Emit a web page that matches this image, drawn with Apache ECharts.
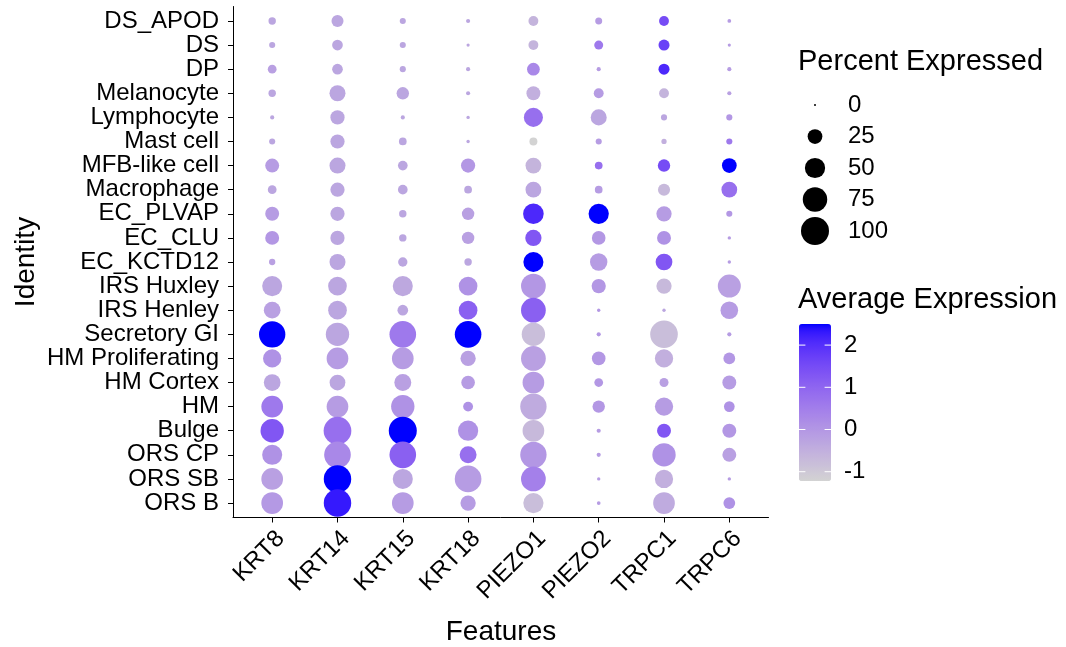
<!DOCTYPE html>
<html>
<head>
<meta charset="utf-8">
<script src="https://cdn.jsdelivr.net/npm/echarts@6/dist/echarts.min.js"></script>
<style>html,body{margin:0;padding:0;background:#fff;}#chart{width:1066px;height:647px;}</style>
</head>
<body>
<div id="chart"></div>
<script>
// ---------------- DATA ----------------
const features = ['KRT8','KRT14','KRT15','KRT18','PIEZO1','PIEZO2','TRPC1','TRPC6'];
const identities = ['DS_APOD','DS','DP','Melanocyte','Lymphocyte','Mast cell','MFB-like cell','Macrophage','EC_PLVAP','EC_CLU','EC_KCTD12','IRS Huxley','IRS Henley','Secretory GI','HM Proliferating','HM Cortex','HM','Bulge','ORS CP','ORS SB','ORS B'];
const sizeBreaks = [0, 25, 50, 75, 100];
const colorBreaks = [-1, 0, 1, 2];

// percent expressed, per feature, identities top -> bottom
const pct_KRT8   = [5,3,7.5,5,1,3,22,7.5,22,22,3.3,49,33,88,40,33,58,68,49,58,58];
const pct_KRT14  = [15.7,12,12,30,23,23,30,23,23,23,30,42,42,68,58,29,58,98,90,96,96];
const pct_KRT15  = [3,3,3,17,1,5.5,9.6,9.6,5,5,8.7,49,12,90,58,34,68,100,90,49,58];
const pct_KRT18  = [1,0.4,1,1,0.5,0.5,23,5.5,17,17,5,42,42,90,27,21,10,50,34,90,27];
const pct_PIEZO1 = [10,10,18,22,44,6,29,29,52,31,49,77,77,68,77,58,88,58,88,77,50];
const pct_PIEZO2 = [4.3,8,1,10,30,3,5.5,5.5,50,21,36,23,0.5,1,21,7.5,17,1,1,0.5,0.7];
const pct_TRPC1  = [10,13,13,10,3,2,17,16,27,22,33,27,0.5,97,40,8,40,22,68,40,58];
const pct_TRPC6  = [0.7,0.4,1,1,3,3,25,29,3,0.5,0.5,66,37,1,15,22,12,22,22,0.5,15];

// average expression (scaled), per feature, identities top -> bottom
const avg_KRT8   = [-0.3,-0.3,-0.2,-0.3,-0.3,-0.3,-0.1,-0.3,-0.1,0.0,-0.2,-0.3,-0.2,2.5,0.1,-0.3,0.6,1.3,0.1,-0.2,-0.05];
const avg_KRT14  = [-0.3,-0.3,-0.3,-0.3,-0.3,-0.3,-0.3,-0.3,-0.3,-0.3,-0.3,-0.3,-0.3,-0.3,-0.1,-0.3,-0.1,0.8,0.3,2.5,2.3];
const avg_KRT15  = [-0.3,-0.3,-0.3,-0.3,-0.3,-0.3,-0.3,-0.3,-0.3,-0.3,-0.3,-0.35,-0.3,0.6,-0.1,-0.2,0.1,2.5,1.1,-0.3,-0.1];
const avg_KRT18  = [-0.3,-0.3,-0.3,-0.3,-0.3,-0.3,0.0,-0.3,-0.2,-0.2,-0.3,0.1,1.1,2.5,-0.2,-0.1,0.1,0.1,0.8,-0.1,-0.1];
const avg_PIEZO1 = [-0.6,-0.6,0.3,-0.5,0.8,-1.22,-0.6,-0.3,2.1,1.3,2.5,0.0,1.1,-0.8,-0.2,-0.1,-0.4,-0.7,0.0,0.45,-0.8];
const avg_PIEZO2 = [-0.1,0.6,-0.1,-0.1,-0.3,-0.1,0.8,-0.1,2.5,0.0,-0.1,0.0,0.0,0.0,0.0,0.0,0.0,-0.1,-0.1,-0.1,-0.1];
const avg_TRPC1  = [1.5,1.7,2.1,-0.6,-0.3,-0.5,1.5,-0.7,-0.1,0.1,1.3,-0.7,-0.3,-0.8,-0.5,-0.2,-0.1,1.3,0.1,-0.5,-0.4];
const avg_TRPC6  = [-0.1,-0.1,-0.1,-0.2,0.0,0.6,2.5,0.8,0.0,-0.1,-0.1,-0.2,-0.1,-0.1,0.0,-0.1,0.1,0.0,-0.2,-0.1,0.1];

const pctCols = [pct_KRT8,pct_KRT14,pct_KRT15,pct_KRT18,pct_PIEZO1,pct_PIEZO2,pct_TRPC1,pct_TRPC6];
const avgCols = [avg_KRT8,avg_KRT14,avg_KRT15,avg_KRT18,avg_PIEZO1,avg_PIEZO2,avg_TRPC1,avg_TRPC6];

// ---------------- helpers ----------------
const FONT = "'Liberation Sans', Arial, Helvetica, sans-serif";
function dotSize(p){ return Math.max(2, 1.5 + 26.5 * Math.sqrt(p / 100)); }

function s2l(c){ c/=255; return c<=0.04045 ? c/12.92 : Math.pow((c+0.055)/1.055, 2.4); }
function l2s(c){ c = c<=0.0031308 ? 12.92*c : 1.055*Math.pow(c,1/2.4)-0.055; return Math.round(Math.max(0,Math.min(1,c))*255); }
function rgb2lab(r,g,b){
  r=s2l(r); g=s2l(g); b=s2l(b);
  let X=(0.4124564*r+0.3575761*g+0.1804375*b)/0.95047;
  let Y=(0.2126729*r+0.7151522*g+0.0721750*b);
  let Z=(0.0193339*r+0.1191920*g+0.9503041*b)/1.08883;
  const f=t=> t>0.008856 ? Math.cbrt(t) : 7.787*t+16/116;
  const fx=f(X), fy=f(Y), fz=f(Z);
  return [116*fy-16, 500*(fx-fy), 200*(fy-fz)];
}
function lab2rgb(L,a,b){
  const fy=(L+16)/116, fx=fy+a/500, fz=fy-b/200;
  const fi=t=>{ const t3=t*t*t; return t3>0.008856 ? t3 : (t-16/116)/7.787; };
  const X=fi(fx)*0.95047, Y=fi(fy), Z=fi(fz)*1.08883;
  const r= 3.2404542*X-1.5371385*Y-0.4985314*Z;
  const g=-0.9692660*X+1.8760108*Y+0.0415560*Z;
  const bb=0.0556434*X-0.2040259*Y+1.0572252*Z;
  return 'rgb('+l2s(r)+','+l2s(g)+','+l2s(bb)+')';
}
const lo = rgb2lab(211,211,211), hi = rgb2lab(0,0,255);
const stops = [];
for (let k=0;k<=40;k++){ const t=k/40; stops.push(lab2rgb(lo[0]+(hi[0]-lo[0])*t, lo[1]+(hi[1]-lo[1])*t, lo[2]+(hi[2]-lo[2])*t)); }

// ---------------- build series data ----------------
const data = [];
let vMin = Infinity, vMax = -Infinity;
features.forEach((f, j) => {
  identities.forEach((id, i) => {
    const a = avgCols[j][i], p = pctCols[j][i];
    vMin = Math.min(vMin, a); vMax = Math.max(vMax, a);
    data.push([j, i, a, p]);
  });
});

// ---------------- legend geometry ----------------
const barLeft = 799, barTop = 324, barW = 32, barH = 157;
const graphics = [];
graphics.push({type:'text', x: 798, y: 62, style:{text:'Percent Expressed', font:'29px '+FONT, fill:'#000', textVerticalAlign:'middle'}, z:10});
sizeBreaks.forEach((b, k) => {
  const cy = 105 + k*31.5;
  graphics.push({type:'circle', shape:{cx:815, cy:cy, r: dotSize(b)/2}, style:{fill:'#000'}, z:10});
  graphics.push({type:'text', x: 848, y: cy, style:{text:String(b), font:'24px '+FONT, fill:'#000', textVerticalAlign:'middle'}, z:10});
});
graphics.push({type:'text', x: 798, y: 300, style:{text:'Average Expression', font:'29px '+FONT, fill:'#000', textVerticalAlign:'middle'}, z:10});
colorBreaks.forEach(b => {
  const y = barTop + barH - (b - vMin)/(vMax - vMin)*barH;
  graphics.push({type:'line', shape:{x1:barLeft, y1:y, x2:barLeft+barW/5, y2:y}, style:{stroke:'#fff', lineWidth:1}, z:20});
  graphics.push({type:'line', shape:{x1:barLeft+barW*4/5, y1:y, x2:barLeft+barW, y2:y}, style:{stroke:'#fff', lineWidth:1}, z:20});
  graphics.push({type:'text', x: 844, y: y, style:{text:String(b), font:'24px '+FONT, fill:'#000', textVerticalAlign:'middle'}, z:10});
});
graphics.push({type:'text', x: 26, y: 262, rotation: Math.PI/2, style:{text:'Identity', font:'28px '+FONT, fill:'#000', textAlign:'center', textVerticalAlign:'middle'}, z:10});
graphics.push({type:'text', x: 501, y: 632, style:{text:'Features', font:'28px '+FONT, fill:'#000', textAlign:'center', textVerticalAlign:'middle'}, z:10});

const idx = n => Array.from({length:n}, (_, k) => k);

const chart = echarts.init(document.getElementById('chart'), null, {renderer:'canvas'});
chart.setOption({
  animation: false,
  backgroundColor: '#fff',
  grid: {left: 233, right: 297.5, top: 6.5, bottom: 129.5, containLabel: false},
  xAxis: {
    type: 'value', min: -0.6, max: 7.6,
    axisLine: {show: true, onZero: false, lineStyle: {color: '#000', width: 1}},
    axisTick: {show: true, length: 5, customValues: idx(features.length), lineStyle: {color: '#000'}},
    axisLabel: {customValues: idx(features.length), formatter: v => features[Math.round(v)], rotate: 45, align: 'right', verticalAlign: 'top', margin: 9, fontSize: 24, fontFamily: FONT, color: '#000'},
    splitLine: {show: false}
  },
  yAxis: {
    type: 'value', min: -0.6, max: 20.6, inverse: true,
    axisLine: {show: true, onZero: false, lineStyle: {color: '#000', width: 1}},
    axisTick: {show: true, length: 5, customValues: idx(identities.length), lineStyle: {color: '#000'}},
    axisLabel: {customValues: idx(identities.length), formatter: v => identities[Math.round(v)], margin: 14, fontSize: 24, fontFamily: FONT, color: '#000'},
    splitLine: {show: false}
  },
  visualMap: {
    type: 'continuous', seriesIndex: 0, dimension: 2,
    min: vMin, max: vMax, calculable: false, hoverLink: false,
    left: barLeft, top: barTop, itemWidth: barW, itemHeight: barH, padding: 0,
    inRange: {color: stops}, text: null, showLabel: false
  },
  series: [{
    type: 'scatter',
    data: data,
    symbol: 'circle',
    symbolSize: v => dotSize(v[3]),
    itemStyle: {opacity: 1}
  }],
  graphic: graphics
});
</script>
</body>
</html>
